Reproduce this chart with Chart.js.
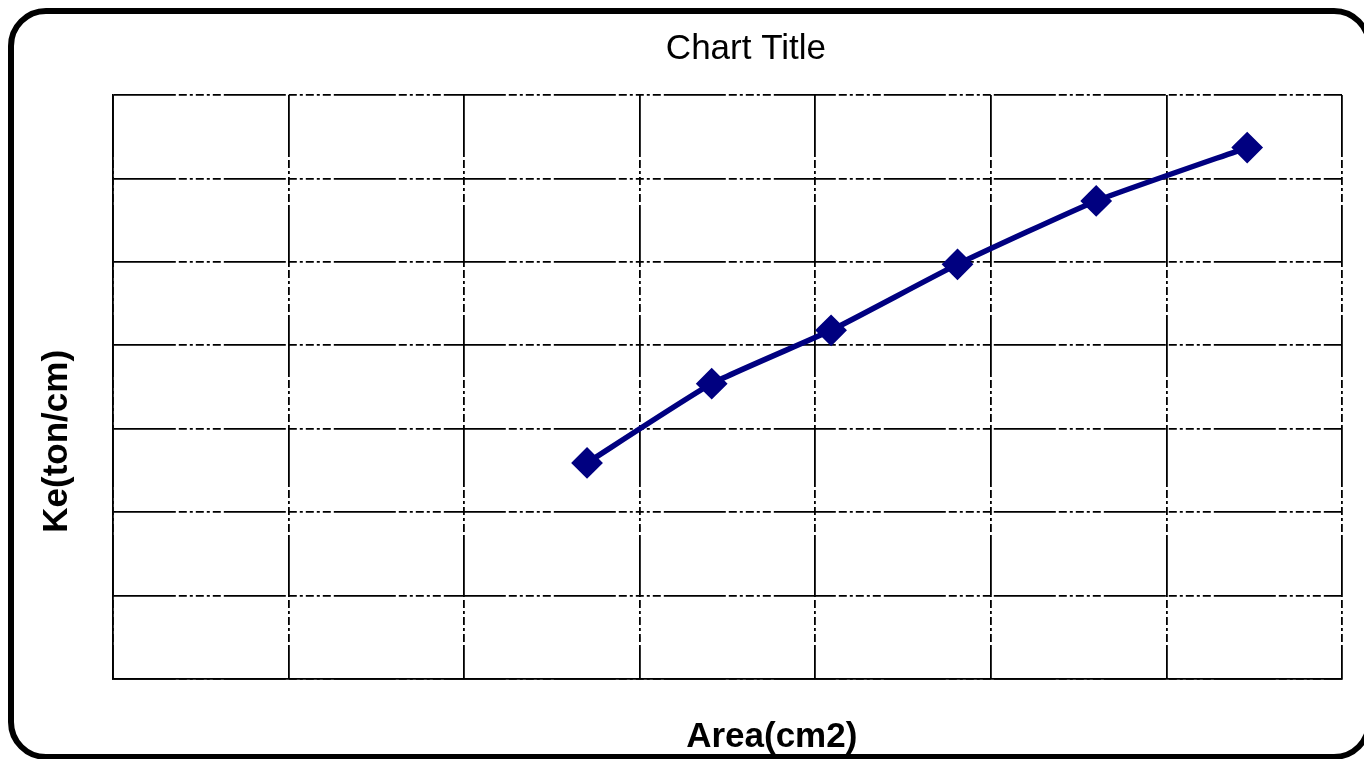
<!DOCTYPE html>
<html>
<head>
<meta charset="utf-8">
<title>Chart Title</title>
<script src="https://cdn.jsdelivr.net/npm/chart.js@4/dist/chart.umd.min.js"></script>
<style>
    html, body { margin: 0; padding: 0; background: #fff; overflow: hidden; }
    #wrap { position: relative; width: 1364px; height: 759px; }
    #chartCanvas { position: absolute; left: 0; top: 0; }
    #frame {
        position: absolute; left: 8px; top: 8px; width: 1364px; height: 752px;
        border: 6px solid #000; border-radius: 38px; box-sizing: border-box;
        pointer-events: none;
    }
</style>
</head>
<body>
<div id="wrap">
    <canvas id="chartCanvas" width="1364" height="759"></canvas>
    <div id="frame"></div>
</div>
<script>
// values (grid units, no tick labels shown)
const areaValues = [2.70, 3.41, 4.09, 4.81, 5.60, 6.46];
const keValues = [2.59, 3.54, 4.18, 4.97, 5.73, 6.37];
const axisMin = 0;
const axisMax = 7;
const chartTitle = 'Chart Title';
const xTitle = 'Area(cm2)';
const yTitle = 'Ke(ton/cm)';

const gridDash = [62, 3, 8, 3, 3, 3, 8, 3, 3, 3, 8, 3];
const fontFamily = 'Arial, "Liberation Sans", sans-serif';

const points = areaValues.map((x, i) => ({ x: x, y: keValues[i] }));

function gridOpts() {
    return {
        color: '#000',
        lineWidth: 1.8,
        drawTicks: false,
        borderDash: gridDash
    };
}

// titles sit off-centre in the original, so they are placed by hand
const titlesPlugin = {
    id: 'titles',
    afterDraw(chart) {
        const c = chart.ctx;
        const area = chart.chartArea;
        c.save();
        c.fillStyle = '#000';
        c.textAlign = 'center';
        c.textBaseline = 'middle';
        c.font = 'normal 35px ' + fontFamily;
        c.fillText(chartTitle, area.left + (area.right - area.left) * 0.515, 49);
        c.font = 'bold 35px ' + fontFamily;
        c.fillText(xTitle, area.left + (area.right - area.left) * 0.536, 737);
        c.translate(57, area.top + (area.bottom - area.top) * 0.593);
        c.rotate(-Math.PI / 2);
        c.fillText(yTitle, 0, 0);
        c.restore();
    }
};

const config = {
    type: 'line',
    data: {
        datasets: [{
            data: points,
            borderColor: '#000080',
            backgroundColor: '#000080',
            borderWidth: 5.5,
            pointStyle: 'rectRot',
            pointRadius: 12,
            pointHoverRadius: 12,
            tension: 0.15
        }]
    },
    options: {
        responsive: false,
        animation: false,
        layout: { padding: { top: 95, left: 113, right: 22, bottom: 80 } },
        plugins: {
            legend: { display: false },
            tooltip: { enabled: false },
            title: { display: false }
        },
        scales: {
            x: {
                type: 'linear',
                min: axisMin,
                max: axisMax,
                ticks: { display: false, stepSize: 1 },
                grid: gridOpts(),
                border: { display: true, color: '#000', width: 1.8, dash: gridDash }
            },
            y: {
                type: 'linear',
                min: axisMin,
                max: axisMax,
                ticks: { display: false, stepSize: 1 },
                grid: gridOpts(),
                border: { display: true, color: '#000', width: 1.8, dash: gridDash }
            }
        }
    },
    plugins: [titlesPlugin]
};

const ctx = document.getElementById('chartCanvas').getContext('2d');
const chartInstance = new Chart(ctx, config);
</script>
</body>
</html>
